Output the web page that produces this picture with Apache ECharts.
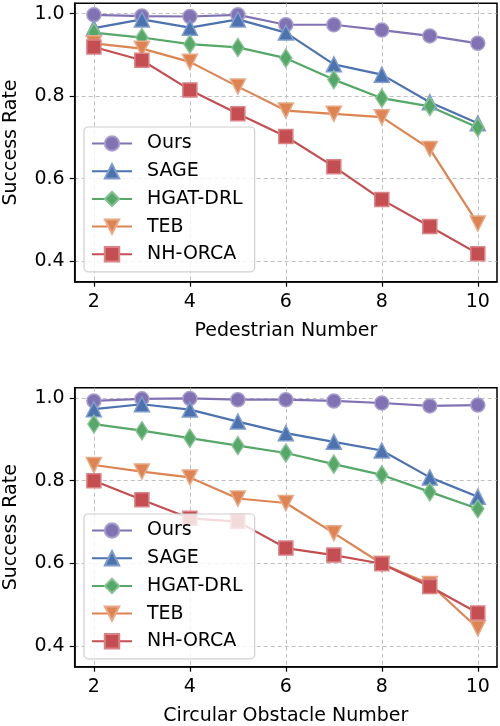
<!DOCTYPE html>
<html>
<head>
<meta charset="utf-8">
<script src="https://cdn.jsdelivr.net/npm/echarts@6/dist/echarts.min.js"></script>
<style>
html,body{margin:0;padding:0;background:#fff;}
#chart{width:500px;height:726px;}
</style>
</head>
<body>
<div id="chart"></div>
<script>
// ---- data ----
const xValues = [2, 3, 4, 5, 6, 7, 8, 9, 10];
const seriesNames = ['Ours', 'SAGE', 'HGAT-DRL', 'TEB', 'NH-ORCA'];
const xTicks = [2, 4, 6, 8, 10];
const yTicks = [0.4, 0.6, 0.8, 1.0];

// Top: Pedestrian Number
const pedOurs   = [0.997, 0.994, 0.993, 0.997, 0.973, 0.973, 0.960, 0.946, 0.928];
const pedSAGE   = [0.965, 0.986, 0.966, 0.986, 0.954, 0.877, 0.852, 0.785, 0.734];
const pedHGAT   = [0.954, 0.942, 0.926, 0.918, 0.892, 0.840, 0.795, 0.775, 0.724];
const pedTEB    = [0.928, 0.915, 0.883, 0.823, 0.765, 0.757, 0.749, 0.672, 0.491];
const pedNHORCA = [0.919, 0.887, 0.815, 0.757, 0.702, 0.629, 0.549, 0.484, 0.418];

// Bottom: Circular Obstacle Number
const obsOurs   = [0.993, 0.998, 0.999, 0.996, 0.996, 0.993, 0.988, 0.981, 0.983];
const obsSAGE   = [0.973, 0.985, 0.972, 0.943, 0.915, 0.894, 0.873, 0.808, 0.761];
const obsHGAT   = [0.937, 0.921, 0.903, 0.885, 0.867, 0.840, 0.814, 0.773, 0.732];
const obsTEB    = [0.838, 0.822, 0.808, 0.757, 0.746, 0.673, 0.599, 0.550, 0.443];
const obsNHORCA = [0.800, 0.754, 0.709, 0.701, 0.637, 0.620, 0.599, 0.544, 0.480];

// ---- styles ----
const colors = ['#8172B3', '#4C72B0', '#55A868', '#DD8452', '#C44E52'];
const edgeColors = ['#a89dcc', '#7f9ccb', '#88c295', '#e8a987', '#d98386'];
const symbols = ['circle', 'triangle', 'diamond', 'path://M0,0 L10,0 L5,9 Z', 'rect'];
const symbolSizes = [14, 15, [12, 18], 15, 14];
const FONT = 'DejaVu Sans';

const topData = [pedOurs, pedSAGE, pedHGAT, pedTEB, pedNHORCA];
const botData = [obsOurs, obsSAGE, obsHGAT, obsTEB, obsNHORCA];

function makeSeries(dataSets, idx) {
  return dataSets.map((vals, i) => ({
    name: seriesNames[i],
    type: 'line',
    xAxisIndex: idx,
    yAxisIndex: idx,
    data: xValues.map((x, k) => [x, vals[k]]),
    symbol: symbols[i],
    symbolSize: symbolSizes[i],
    showAllSymbol: true,
    lineStyle: { color: colors[i], width: 2.2 },
    itemStyle: { color: colors[i], borderColor: edgeColors[i], borderWidth: 1.5, opacity: 1 },
    emphasis: { disabled: true },
    animation: false
  }));
}

function makeXAxis(idx, name) {
  return {
    type: 'value', gridIndex: idx, min: 1.6, max: 10.4,
    name: name, nameLocation: 'middle', nameGap: 40, nameMoveOverlap: false,
    nameTextStyle: { fontFamily: FONT, fontSize: 19, color: '#000', align: 'center' },
    axisLine: { show: true, lineStyle: { color: '#000', width: 1.5 } },
    axisTick: { show: true, inside: false, length: 5, lineStyle: { color: '#000', width: 1.2 }, customValues: xTicks },
    axisLabel: { fontFamily: FONT, fontSize: 19, color: '#000', margin: 11, customValues: xTicks,
                 formatter: v => String(v) },
    splitLine: { show: true, lineStyle: { color: '#b0b0b0', type: [4, 3], width: 0.8 } }
  };
}

function makeYAxis(idx, name) {
  return {
    type: 'value', gridIndex: idx, min: 0.35, max: 1.025,
    name: name, nameLocation: 'middle', nameGap: 54, nameRotate: 90, nameMoveOverlap: false,
    nameTextStyle: { fontFamily: FONT, fontSize: 19, color: '#000' },
    axisLine: { show: true, lineStyle: { color: '#000', width: 1.5 } },
    axisTick: { show: true, inside: false, length: 5, lineStyle: { color: '#000', width: 1.2 }, customValues: yTicks },
    axisLabel: { fontFamily: FONT, fontSize: 19, color: '#000', margin: 10, customValues: yTicks,
                 formatter: v => v.toFixed(1) },
    splitLine: { show: true, lineStyle: { color: '#b0b0b0', type: [4, 3], width: 0.8 } }
  };
}

function makeLegend(top) {
  return {
    orient: 'vertical', left: 84, top: top,
    data: seriesNames,
    itemWidth: 40, itemHeight: 18, itemGap: 8.7,
    padding: [7, 12, 8, 7],
    backgroundColor: 'rgba(255,255,255,0.8)',
    borderColor: '#d0d0d0', borderWidth: 1.2, borderRadius: 4,
    textStyle: { fontFamily: FONT, fontSize: 19, color: '#000', lineHeight: 19, padding: [0, 0, 0, 10] },
    selectedMode: false,
    z: 10
  };
}

const chart = echarts.init(document.getElementById('chart'), null, { renderer: 'canvas' });
chart.setOption({
  backgroundColor: '#fff',
  animation: false,
  textStyle: { fontFamily: FONT },
  grid: [
    { left: 74.7, right: 3, top: 3.3, height: 278.4, show: true, borderColor: '#000', borderWidth: 1.5, containLabel: false, outerBoundsMode: 'none' },
    { left: 74.7, right: 3, top: 387.7, height: 279, show: true, borderColor: '#000', borderWidth: 1.5, containLabel: false, outerBoundsMode: 'none' }
  ],
  xAxis: [makeXAxis(0, 'Pedestrian Number'), makeXAxis(1, 'Circular Obstacle Number')],
  yAxis: [makeYAxis(0, 'Success Rate'), makeYAxis(1, 'Success Rate')],
  legend: [makeLegend(127), makeLegend(514)],
  series: makeSeries(topData, 0).concat(makeSeries(botData, 1))
});
</script>
</body>
</html>
